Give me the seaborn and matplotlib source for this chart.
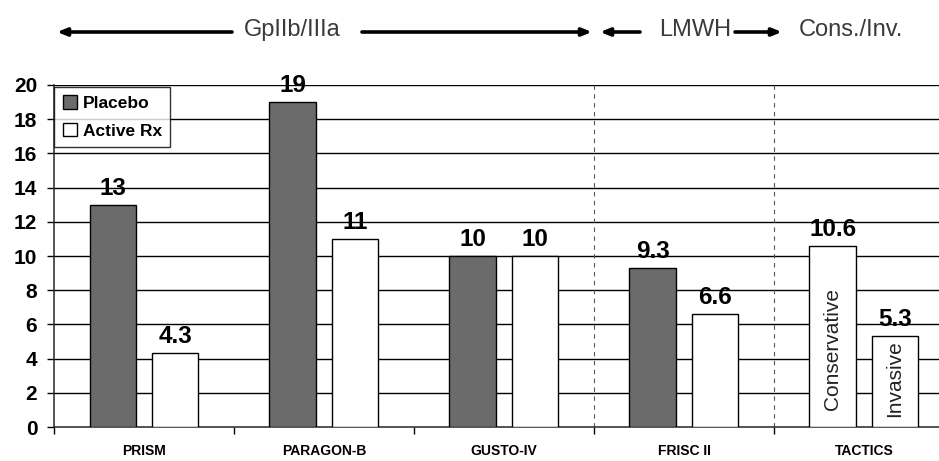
import matplotlib
matplotlib.use("Agg")
import matplotlib.pyplot as plt
import seaborn as sns
import pandas as pd

# data
studies = ["PRISM", "PARAGON-B", "GUSTO-IV", "FRISC II", "TACTICS"]
placebo = [13, 19, 10, 9.3, 10.6]
active = [4.3, 11, 10, 6.6, 5.3]
value_labels_placebo = ["13", "19", "10", "9.3", "10.6"]
value_labels_active = ["4.3", "11", "10", "6.6", "5.3"]
series = ["Placebo", "Active Rx"]
y_ticks = list(range(0, 21, 2))

df = pd.DataFrame({
    "study": studies * 2,
    "group": [series[0]] * len(studies) + [series[1]] * len(studies),
    "value": placebo + active,
})

sns.set_style("white")
plt.rcParams['font.family'] = ['Liberation Sans', 'DejaVu Sans']
plt.rcParams['text.color'] = 'black'
plt.rcParams['xtick.color'] = 'black'
plt.rcParams['ytick.color'] = 'black'

fig = plt.figure(figsize=(9.39, 4.61), dpi=100)
ax = fig.add_axes([54 / 939, 1 - 427 / 461, 1 - 54 / 939, (427 - 85) / 461])

sns.barplot(data=df, x="study", y="value", hue="group", order=studies,
            hue_order=series, palette=["#6b6b6b", "white"], width=0.69, gap=0.245,
            edgecolor="black", linewidth=1.0, saturation=1, ax=ax, zorder=3)

ax.set_ylim(0, 20)
ax.set_xlim(-0.5, 4.417)
ax.set_yticks(y_ticks)
ax.set_yticklabels([str(t) for t in y_ticks], fontsize=15, fontweight="bold")
ax.set_xticks(range(len(studies)))
ax.set_xticklabels(studies, fontsize=10, fontweight="bold")
ax.tick_params(axis="x", length=0, pad=12)
ax.tick_params(axis="y", length=5, width=1, direction="out", pad=7, left=True)
ax.set_xticks([i - 0.5 for i in range(len(studies))], minor=True)
ax.tick_params(axis="x", which="minor", length=5, width=1, direction="out", bottom=True)
ax.set_xlabel("")
ax.set_ylabel("")

for y in y_ticks[1:]:
    ax.axhline(y, color="black", lw=1.0, zorder=1)
for x in [2.5, 3.5]:
    ax.axvline(x, color="#555555", lw=0.8, ls=(0, (4, 4)), zorder=1)

for s in ["top", "right"]:
    ax.spines[s].set_visible(False)
ax.spines["left"].set_linewidth(1.1)
ax.spines["bottom"].set_linewidth(1.1)

# bars: first container = Placebo, second = Active Rx
bars_p = ax.containers[0]
bars_a = ax.containers[1]
# TACTICS bars are both unfilled (conservative vs invasive)
bars_p[4].set_facecolor("white")

for bars, labels in [(bars_p, value_labels_placebo), (bars_a, value_labels_active)]:
    for bar, lab in zip(bars, labels):
        ax.text(bar.get_x() + bar.get_width() / 2, bar.get_height() + 0.3, lab,
                ha="center", va="bottom", fontsize=17.5, fontweight="bold", zorder=4)

for bar, lab, y0 in [(bars_p[4], "Conservative", 1.0), (bars_a[4], "Invasive", 0.6)]:
    ax.text(bar.get_x() + bar.get_width() / 2, y0, lab, rotation=90,
            ha="center", va="bottom", fontsize=15, color="#222222", zorder=4)

leg = ax.legend(loc="upper left", bbox_to_anchor=(-0.002, 1.0), frameon=True,
                fancybox=False, edgecolor="black",
                prop={"weight": "bold", "size": 12.5}, handlelength=0.85,
                handleheight=0.85, handletextpad=0.3, borderpad=0.5,
                labelspacing=0.65, borderaxespad=0.1)
leg.get_frame().set_linewidth(1.0)
leg.set_zorder(5)

# header with arrows
def farrow(x0, x1, y=32):
    ax.annotate("", xy=(x1 / 939, 1 - y / 461), xytext=(x0 / 939, 1 - y / 461),
                xycoords="figure fraction", textcoords="figure fraction",
                arrowprops=dict(arrowstyle="-|>,head_length=0.55,head_width=0.22",
                                color="black", lw=2.6, shrinkA=0, shrinkB=0))

farrow(232, 57)
farrow(362, 592)
farrow(640, 600)
farrow(735, 782)
head = dict(fontsize=17, color="#3a3a3a", ha="center", va="center")
fig.text(292 / 939, 1 - 30 / 461, "GpIIb/IIIa", **head)
fig.text(695 / 939, 1 - 30 / 461, "LMWH", **head)
fig.text(851 / 939, 1 - 30 / 461, "Cons./Inv.", **head)

fig.savefig("out.png", dpi=100)
